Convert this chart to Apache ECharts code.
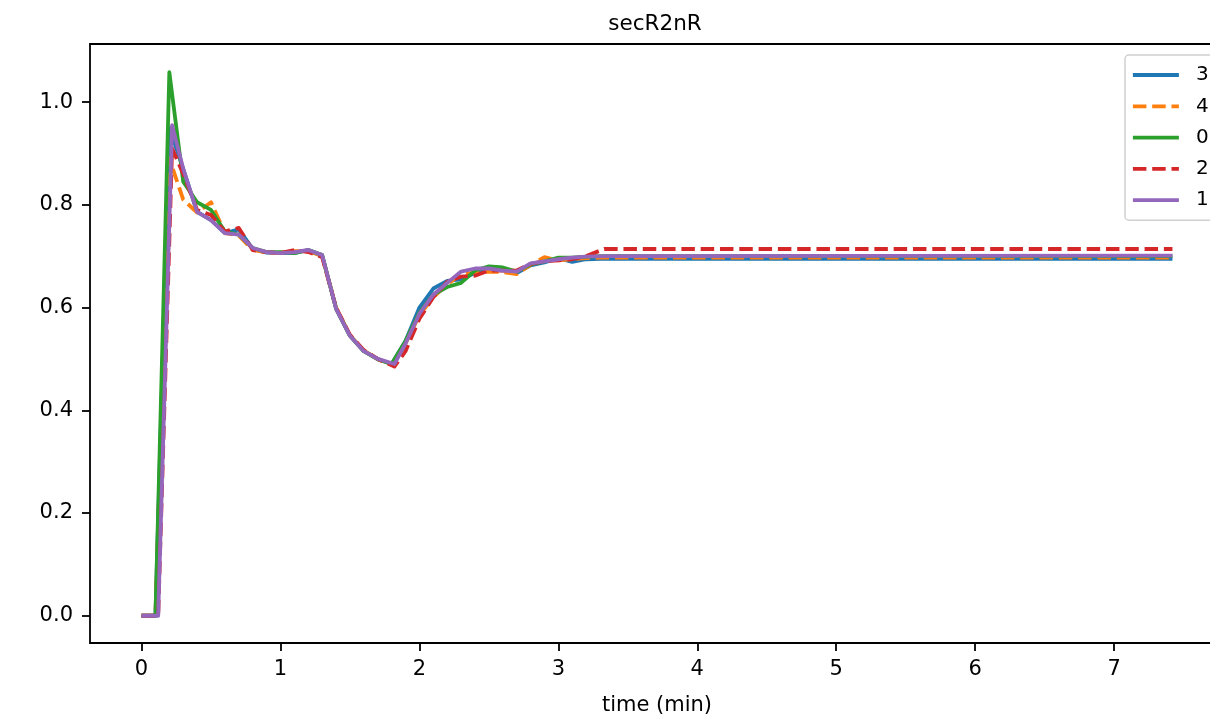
<!DOCTYPE html>
<html><head><meta charset="utf-8">
<script src="https://cdn.jsdelivr.net/npm/echarts@6/dist/echarts.min.js"></script>
<style>html,body{margin:0;padding:0;background:#fff}#c{width:1210px;height:718px}</style>
</head><body><div id="c"></div>
<script>
// time (min) for each series
const timeA = [0,0.1,0.2,0.3,0.4,0.5,0.6,0.7,0.8,0.9,1.0,1.1,1.2,1.3,1.4,1.5,1.6,1.7,1.8,1.9,2.0,2.1,2.2,2.3,2.4,2.5,2.6,2.7,2.8,2.9,3.0,3.1,3.2,3.3,7.42];
const timeB = [0,0.12,0.22,0.3,0.4,0.5,0.6,0.7,0.8,0.9,1.0,1.1,1.2,1.3,1.4,1.5,1.6,1.7,1.82,1.9,2.0,2.1,2.2,2.3,2.4,2.5,2.6,2.7,2.8,2.9,3.0,3.1,3.2,3.33,7.42];
const seriesNames = ['3','4','0','2','1'];
const v3 = [0,0,0.95,0.87,0.786,0.77,0.745,0.752,0.714,0.707,0.706,0.706,0.712,0.702,0.598,0.545,0.515,0.500,0.490,0.535,0.600,0.637,0.652,0.655,0.667,0.678,0.677,0.667,0.682,0.688,0.696,0.689,0.694,0.695,0.695];
const v4 = [0,0,0.89,0.81,0.785,0.805,0.745,0.740,0.712,0.707,0.706,0.710,0.710,0.700,0.600,0.546,0.516,0.500,0.490,0.530,0.585,0.620,0.645,0.665,0.668,0.670,0.669,0.665,0.683,0.698,0.692,0.694,0.696,0.697,0.697];
const v0 = [0,0,1.058,0.845,0.805,0.79,0.748,0.742,0.716,0.708,0.708,0.706,0.712,0.702,0.598,0.545,0.515,0.499,0.490,0.535,0.590,0.625,0.640,0.648,0.672,0.680,0.678,0.670,0.684,0.690,0.697,0.697,0.699,0.700,0.700];
const v2 = [0,0,0.91,0.86,0.79,0.78,0.748,0.755,0.712,0.708,0.706,0.712,0.708,0.698,0.600,0.547,0.517,0.500,0.485,0.515,0.578,0.620,0.650,0.660,0.662,0.672,0.672,0.672,0.685,0.690,0.692,0.694,0.700,0.714,0.714];
const v1 = [0,0,0.955,0.87,0.786,0.77,0.745,0.742,0.716,0.708,0.706,0.708,0.712,0.702,0.598,0.545,0.515,0.500,0.490,0.530,0.588,0.625,0.648,0.670,0.676,0.676,0.672,0.670,0.686,0.690,0.694,0.697,0.699,0.700,0.701];
const xTicks = [0,1,2,3,4,5,6,7];
const yTicks = [0,0.2,0.4,0.6,0.8,1.0];

const colors = ['#1f77b4','#ff7f0e','#2ca02c','#d62728','#9467bd'];
const dashed = [false,true,false,true,false];
const vals = [v3,v4,v0,v2,v1];
const times = [timeA,timeA,timeA,timeB,timeB];
const font = 'DejaVu Sans';

const series = seriesNames.map((n,i)=>({
  name:n, type:'line', showSymbol:false, symbol:'none', animation:false,
  data: times[i].map((t,k)=>[t, vals[i][k]]),
  lineStyle:{color:colors[i], width:3.8, type: dashed[i] ? [13.5,5.8] : 'solid', cap:'butt', join:'round'},
  itemStyle:{color:colors[i]}
}));

const chart = echarts.init(document.getElementById('c'), null, {renderer:'canvas'});
chart.setOption({
  animation:false,
  title:{text:'secR2nR', left:650, textAlign:'center', top:8, textStyle:{fontFamily:font, fontSize:21.5, fontWeight:'normal', color:'#000'}},
  grid:{left:90, top:44, width:1134, height:599, show:true, borderColor:'#000', borderWidth:1.8, backgroundColor:'transparent', containLabel:false, outerBoundsMode:'none'},
  xAxis:{type:'value', min:-0.371, max:7.791,
    name:'time (min)', nameLocation:'middle', nameGap:52, nameTextStyle:{fontFamily:font, fontSize:21, color:'#000'},
    axisLine:{show:false, onZero:false}, splitLine:{show:false},
    axisTick:{show:true, customValues:xTicks, length:8, lineStyle:{color:'#000', width:1.8}},
    axisLabel:{customValues:xTicks, fontFamily:font, fontSize:21, color:'#000', margin:16, formatter:v=>String(v)}
  },
  yAxis:{type:'value', min:-0.053, max:1.113,
    axisLine:{show:false, onZero:false}, splitLine:{show:false},
    axisTick:{show:true, customValues:yTicks, length:8, lineStyle:{color:'#000', width:1.8}},
    axisLabel:{customValues:yTicks, fontFamily:font, fontSize:21, color:'#000', margin:17, formatter:v=>v.toFixed(1)}
  },
  legend:{orient:'vertical', left:1125, top:55, data:seriesNames,
    itemWidth:46, itemHeight:14, itemGap:11.3, padding:[10,30,10,6],
    itemStyle:{opacity:0}, lineStyle:{width:3.8},
    borderColor:'#d0d0d0', borderWidth:1.5, borderRadius:4, backgroundColor:'#fff',
    textStyle:{fontFamily:font, fontSize:20, color:'#000', padding:[0,0,0,12]}},
  series
});
</script></body></html>
